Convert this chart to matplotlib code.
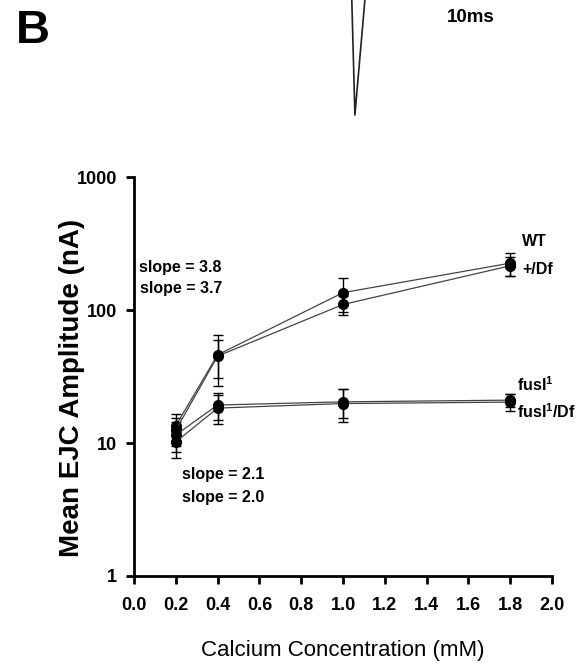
# calcium dependence of EJC amplitude (log scale) with a sample trace on top

import matplotlib.pyplot as plt
from matplotlib.ticker import FixedLocator, NullLocator, FixedFormatter

# concentrations tested (mM)
calcium = [0.2, 0.4, 1.0, 1.8]

# mean EJC amplitude (nA) and SEM for each genotype
wt_mean = [13.5, 46, 135, 225]
wt_err = [3, 19, 38, 45]
df_mean = [12.5, 45, 110, 215]
df_err = [3, 14, 18, 35]
fusl_mean = [11.5, 19.3, 20.4, 21]
fusl_err = [3, 4.5, 5, 2.5]
fusldf_mean = [10.2, 18.3, 19.8, 20.3]
fusldf_err = [2.5, 4.5, 5.5, 3]

# piece of the example trace (bottom of the current spike)
trace_t = [0.0, 0.13, 0.55]
trace_i = [30, -115, 30]

x_ticks = [0.0, 0.2, 0.4, 0.6, 0.8, 1.0, 1.2, 1.4, 1.6, 1.8, 2.0]
y_ticks = [1, 10, 100, 1000]

font = ['Liberation Sans', 'DejaVu Sans']
plt.rcParams['font.family'] = font
# superscripts in the same bold font as the labels
plt.rcParams['mathtext.fontset'] = 'custom'
plt.rcParams['mathtext.bf'] = 'Liberation Sans:bold'
plt.rcParams['mathtext.rm'] = 'Liberation Sans:bold'

fig = plt.figure(figsize=(5.77, 6.68), dpi=100)
fig.patch.set_facecolor('white')

# trace at the top
ax_tr = fig.add_axes([300 / 577, 1 - 125 / 668, 120 / 577, 125 / 668])
ax_tr.plot(trace_t, trace_i, color='#222222', lw=1.2)
ax_tr.set_xlim(-1.7, 2.3)
ax_tr.set_ylim(-125, 0)
ax_tr.axis('off')

fig.text(16 / 577, 1 - 31 / 668, 'B', fontsize=34, fontweight='bold',
         va='center', ha='left')
fig.text(471 / 577, 1 - 17 / 668, '10ms', fontsize=13.5, fontweight='bold',
         va='center', ha='center')

# main plot
ax = fig.add_axes([134 / 577, 1 - 576 / 668, 418 / 577, 399 / 668])

series = [
    (wt_mean, wt_err),
    (df_mean, df_err),
    (fusl_mean, fusl_err),
    (fusldf_mean, fusldf_err),
]
for mean, err in series:
    ax.errorbar(calcium, mean, yerr=err, color='#444444', lw=0.9,
                marker='o', ms=7, mfc='black', mec='black',
                ecolor='black', elinewidth=1.0, capsize=3.5, capthick=1.0)

ax.set_yscale('log')
ax.set_xlim(0, 2.0)
ax.set_ylim(1, 1000)

ax.xaxis.set_major_locator(FixedLocator(x_ticks))
ax.xaxis.set_major_formatter(FixedFormatter([f'{v:.1f}' for v in x_ticks]))
ax.yaxis.set_major_locator(FixedLocator(y_ticks))
ax.yaxis.set_major_formatter(FixedFormatter([str(v) for v in y_ticks]))
ax.yaxis.set_minor_locator(NullLocator())

for s in ['top', 'right']:
    ax.spines[s].set_visible(False)
for s in ['left', 'bottom']:
    ax.spines[s].set_linewidth(2)

ax.tick_params(axis='both', which='major', direction='out', length=6,
               width=2, pad=6, labelsize=13)
ax.tick_params(axis='x', pad=9)
for lab in ax.get_xticklabels() + ax.get_yticklabels():
    lab.set_fontweight('bold')

ax.set_ylabel('Mean EJC Amplitude (nA)', fontsize=20, fontweight='bold')
ax.yaxis.set_label_coords(-0.117, 0.471)
ax.set_xlabel('Calcium Concentration (mM)', fontsize=16)
ax.xaxis.set_label_coords(0.5, -0.160)

# slope annotations
txt = dict(fontsize=11.5, fontweight='bold', va='center')
ax.text(0.024, 210, 'slope = 3.8', **txt)
ax.text(0.03, 146, 'slope = 3.7', **txt)
ax.text(0.23, 5.75, 'slope = 2.1', **txt)
ax.text(0.23, 3.86, 'slope = 2.0', **txt)

# genotype labels next to the last points
ax.text(1.856, 325, 'WT', **txt)
ax.text(1.856, 200, '+/Df', **txt)
ax.text(1.833, 27.3, r'fusl$^{\mathbf{1}}$', **txt)
ax.text(1.833, 17.1, r'fusl$^{\mathbf{1}}$/Df', **txt)
for t in ax.texts:
    t.set_clip_on(False)

fig.savefig('out.png', dpi=100)
